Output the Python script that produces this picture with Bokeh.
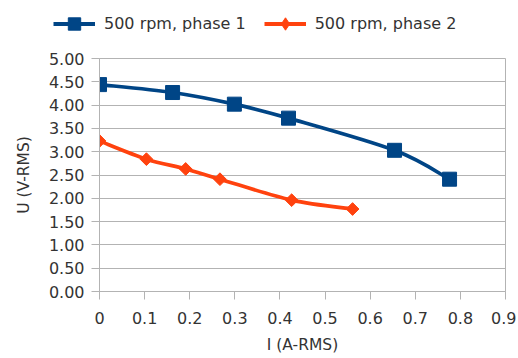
from bokeh.plotting import figure
from bokeh.models import (Range1d, FixedTicker, NumeralTickFormatter, Legend,
                          LegendItem, ColumnDataSource)
from bokeh.embed import file_html
from bokeh.resources import INLINE
import math

# ---- data ----
series_names = ["500 rpm, phase 1", "500 rpm, phase 2"]
i_phase1 = [0.0, 0.162, 0.299, 0.419, 0.654, 0.776]
u_phase1 = [4.44, 4.27, 4.02, 3.72, 3.03, 2.41]
i_phase2 = [0.0, 0.104, 0.191, 0.267, 0.426, 0.561]
u_phase2 = [3.23, 2.84, 2.63, 2.41, 1.96, 1.77]
x_ticks = [0, 0.1, 0.2, 0.3, 0.4, 0.5, 0.6, 0.7, 0.8, 0.9]
y_ticks = [0, 0.5, 1.0, 1.5, 2.0, 2.5, 3.0, 3.5, 4.0, 4.5, 5.0]

BLUE = "#004586"
RED = "#ff420e"
GRID = "#b3b3b3"
TXT = "#333333"
FONT = "DejaVu Sans"
W = 516

# ---------------- main chart ----------------
p = figure(width=W, height=306, output_backend="svg", toolbar_location=None,
           x_range=Range1d(0, 0.9), y_range=Range1d(0, 5),
           min_border_left=99, min_border_right=11, min_border_top=8,
           min_border_bottom=64)
p.background_fill_color = "white"
p.border_fill_color = "white"
p.outline_line_color = GRID
p.outline_line_width = 1

p.xgrid.visible = False
p.ygrid.grid_line_color = GRID
p.ygrid.ticker = FixedTicker(ticks=y_ticks)

for ax in (p.xaxis[0], p.yaxis[0]):
    ax.axis_line_color = GRID
    ax.major_tick_line_color = GRID
    ax.minor_tick_line_color = None
    ax.major_tick_in = 0
    ax.major_tick_out = 8
    ax.major_label_text_font = FONT
    ax.major_label_text_font_size = "16px"
    ax.major_label_text_color = TXT
    ax.axis_label_text_font = FONT
    ax.axis_label_text_font_size = "15.5px"
    ax.axis_label_text_font_style = "normal"
    ax.axis_label_text_color = TXT

p.xaxis.ticker = FixedTicker(ticks=x_ticks)
p.xaxis.formatter = NumeralTickFormatter(format="0.[0]")
p.xaxis.axis_label = "I (A-RMS)"
p.xaxis.major_label_standoff = 12
p.xaxis.axis_label_standoff = 9

p.yaxis.ticker = FixedTicker(ticks=y_ticks)
p.yaxis.formatter = NumeralTickFormatter(format="0.00")
p.yaxis.axis_label = "U (V-RMS)"
p.yaxis.major_label_standoff = 7
p.yaxis.axis_label_standoff = 13


def smooth_segments(xs, ys):
    """Cubic Bezier (Catmull-Rom) control points through the data points."""
    n = len(xs)
    seg = dict(x0=[], y0=[], x1=[], y1=[], cx0=[], cy0=[], cx1=[], cy1=[])
    for k in range(n - 1):
        km = max(k - 1, 0)
        kp = min(k + 2, n - 1)
        seg["x0"].append(xs[k]); seg["y0"].append(ys[k])
        seg["x1"].append(xs[k + 1]); seg["y1"].append(ys[k + 1])
        seg["cx0"].append(xs[k] + (xs[k + 1] - xs[km]) / 6)
        seg["cy0"].append(ys[k] + (ys[k + 1] - ys[km]) / 6)
        seg["cx1"].append(xs[k + 1] - (xs[kp] - xs[k]) / 6)
        seg["cy1"].append(ys[k + 1] - (ys[kp] - ys[k]) / 6)
    return ColumnDataSource(seg)


# series 1
p.bezier(x0="x0", y0="y0", x1="x1", y1="y1", cx0="cx0", cy0="cy0",
         cx1="cx1", cy1="cy1", source=smooth_segments(i_phase1, u_phase1),
         line_color=BLUE, line_width=3.7)
p.scatter(i_phase1, u_phase1, marker="square", size=14,
          fill_color=BLUE, line_color=BLUE)

# series 2
p.bezier(x0="x0", y0="y0", x1="x1", y1="y1", cx0="cx0", cy0="cy0",
         cx1="cx1", cy1="cy1", source=smooth_segments(i_phase2, u_phase2),
         line_color=RED, line_width=3.7)
p.scatter(i_phase2, u_phase2, marker="square", size=9, angle=math.pi / 4,
          fill_color=RED, line_color=RED)

# ---------------- legend strip above the chart (separate root) ----------------
# same series drawn out of view (y range far above the data) so that only the
# legend entries show
lg = figure(width=W, height=50, output_backend="svg", toolbar_location=None,
            x_axis_type=None, y_axis_type=None,
            x_range=Range1d(0, 0.9), y_range=Range1d(100, 101),
            min_border_left=0, min_border_right=0, min_border_top=0,
            min_border_bottom=0)
lg.outline_line_color = None
lg.background_fill_color = "white"
lg.border_fill_color = "white"

l1 = lg.line(i_phase1, u_phase1, line_color=BLUE, line_width=4)
m1 = lg.scatter(i_phase1, u_phase1, marker="square",
                fill_color=BLUE, line_color=BLUE)
l2 = lg.line(i_phase2, u_phase2, line_color=RED, line_width=4)
m2 = lg.scatter(i_phase2, u_phase2, marker="diamond",
                fill_color=RED, line_color=RED)

legend = Legend(items=[LegendItem(label=series_names[0], renderers=[l1, m1]),
                       LegendItem(label=series_names[1], renderers=[l2, m2])],
                orientation="horizontal", location=(53, 11),
                glyph_width=42, glyph_height=31, label_standoff=9, spacing=18,
                padding=0, margin=0, border_line_alpha=0,
                background_fill_alpha=0,
                label_text_font=FONT, label_text_font_size="16px",
                label_text_color=TXT)
lg.add_layout(legend, "center")

open("out.html", "w").write(file_html([lg, p], INLINE))
